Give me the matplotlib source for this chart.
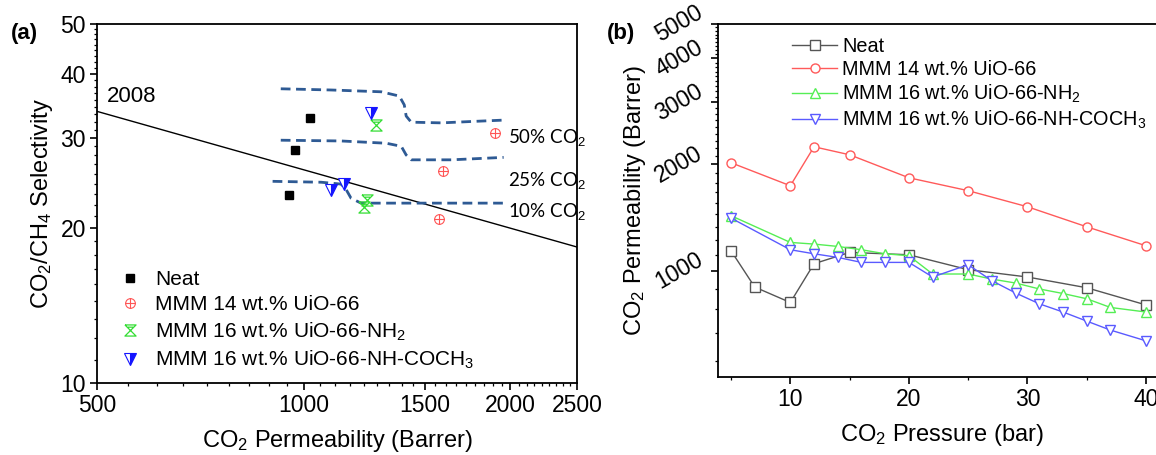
import numpy as np
import matplotlib.pyplot as plt
from matplotlib.path import Path
from matplotlib.ticker import FixedLocator, NullFormatter

plt.rcParams['font.family'] = ['Liberation Sans', 'DejaVu Sans']
plt.rcParams['mathtext.fontset'] = 'custom'
plt.rcParams['mathtext.rm'] = 'Liberation Sans'
plt.rcParams['mathtext.it'] = 'Liberation Sans:italic'

# ---- panel (a): selectivity vs permeability ----
robeson_perm = [500, 2500]
robeson_sel = [33.8, 18.4]

neat_perm = [1021, 971, 951]
neat_sel = [32.8, 28.4, 23.2]
uio_perm = [1898, 1598, 1576]
uio_sel = [30.7, 25.9, 20.9]
nh2_perm = [1275, 1237, 1225]
nh2_sel = [31.8, 22.7, 22.0]
coch3_perm = [1254, 1096, 1145]
coch3_sel = [33.6, 23.8, 24.4]

# model curves for mixed gas feeds
m50_perm = [926, 1096, 1297, 1378, 1401, 1410, 1434, 1587, 1756, 1955]
m50_sel = [37.4, 37.2, 36.9, 36.2, 34.8, 33.1, 32.2, 32.1, 32.3, 32.5]
m25_perm = [926, 1133, 1319, 1387, 1410, 1434, 1641, 1955]
m25_sel = [29.7, 29.6, 29.3, 28.9, 27.8, 27.2, 27.2, 27.5]
m10_perm = [901, 1060, 1133, 1153, 1172, 1212, 1483, 1955]
m10_sel = [24.7, 24.6, 24.4, 23.8, 22.9, 22.4, 22.4, 22.4]
feed_labels = ['50% CO$_2$', '25% CO$_2$', '10% CO$_2$']
feed_label_sel = [30.0, 24.8, 21.6]

# ---- panel (b): permeability vs pressure ----
p_neat = [5, 7, 10, 12, 15, 20, 25, 30, 35, 40]
k_neat = [1139, 899, 813, 1047, 1127, 1110, 1007, 960, 895, 800]
p_uio = [5, 10, 12, 15, 20, 25, 30, 35, 40]
k_uio = [2023, 1741, 2245, 2131, 1834, 1686, 1518, 1332, 1177]
p_mod = [5, 10, 12, 14, 16, 18, 20, 22, 25, 27, 29, 31, 33, 35, 37, 40]
k_nh2 = [1432, 1203, 1190, 1172, 1147, 1117, 1103, 979, 979, 947, 923, 888, 862, 833, 787, 764]
k_coch3 = [1410, 1147, 1117, 1091, 1056, 1056, 1056, 960, 1040, 937, 865, 806, 764, 720, 679, 633]

names = ['Neat', 'MMM 14 wt.% UiO-66', 'MMM 16 wt.% UiO-66-NH$_2$',
         'MMM 16 wt.% UiO-66-NH-COCH$_3$']


def minor_ticks(majors, n=9):
    out = []
    for a, b in zip(majors[:-1], majors[1:]):
        out += list(np.linspace(a, b, n + 1)[1:-1])
    return out


# custom markers
circ = Path.unit_circle()
cross = Path([(-1, 0), (1, 0), (0, -1), (0, 1)],
             [Path.MOVETO, Path.LINETO, Path.MOVETO, Path.LINETO])
oplus = Path.make_compound_path(circ, cross)
hourglass = Path([(-1, 1), (1, 1), (-1, -1), (1, -1), (-1, 1), (-0.5, 0.6), (0.5, 0.6)],
                 [Path.MOVETO, Path.LINETO, Path.LINETO, Path.LINETO, Path.LINETO,
                  Path.MOVETO, Path.LINETO])

fig = plt.figure(figsize=(11.56, 4.55), dpi=100)
ax1 = fig.add_axes([0.0839, 0.1582, 0.4152, 0.789])
ax2 = fig.add_axes([0.6211, 0.1714, 0.3867, 0.7758])

FS = 17    # axis labels
TS = 16.5  # tick labels
LS = 15    # legend

# ---------- (a) ----------
ax1.set_xscale('log')
ax1.set_yscale('log')
ax1.plot(robeson_perm, robeson_sel, color='black', lw=1)
dash = dict(color='#2e5a94', lw=2, ls=(0, (3.5, 2)))
ax1.plot(m50_perm, m50_sel, **dash)
ax1.plot(m25_perm, m25_sel, **dash)
ax1.plot(m10_perm, m10_sel, **dash)

ax1.plot(neat_perm, neat_sel, ls='none', marker='s', ms=6, color='black', label=names[0])
ax1.plot(uio_perm, uio_sel, ls='none', marker=oplus, ms=7, mfc='none', mec='#ff5555',
         mew=0.8, label=names[1])
ax1.plot(nh2_perm, nh2_sel, ls='none', marker=hourglass, ms=8, mfc='none', mec='#33dd33',
         mew=0.9, label=names[2])
ax1.plot(coch3_perm, coch3_sel, ls='none', marker='v', ms=8, color='#1515ff',
         fillstyle='right', markerfacecoloralt='white', mew=0.8, label=names[3])

for lab, y in zip(feed_labels, feed_label_sel):
    ax1.text(1985, y, lab, fontsize=13.5, family=['Lato', 'DejaVu Sans'], va='center', ha='left')
ax1.text(517, 36.2, '2008', fontsize=16, va='center', ha='left')

ax1.set_xlim(500, 2500)
ax1.set_ylim(10, 50)
xmaj = [500, 1000, 1500, 2000, 2500]
ymaj = [10, 20, 30, 40, 50]
ax1.xaxis.set_major_locator(FixedLocator(xmaj))
ax1.xaxis.set_minor_locator(FixedLocator(minor_ticks(xmaj)))
ax1.yaxis.set_major_locator(FixedLocator(ymaj))
ax1.yaxis.set_minor_locator(FixedLocator(minor_ticks(ymaj)))
ax1.set_xticklabels([str(v) for v in xmaj])
ax1.set_yticklabels([str(v) for v in ymaj])
ax1.xaxis.set_minor_formatter(NullFormatter())
ax1.yaxis.set_minor_formatter(NullFormatter())
ax1.set_xlabel('CO$_2$ Permeability (Barrer)', fontsize=FS, labelpad=8)
ax1.set_ylabel('CO$_2$/CH$_4$ Selectivity', fontsize=FS, labelpad=4)
ax1.legend(loc='lower left', bbox_to_anchor=(0.0, -0.025), frameon=False, fontsize=LS,
           handletextpad=0.6, labelspacing=0.3, handlelength=1.2, borderaxespad=0.6)

# ---------- (b) ----------
ax2.set_yscale('log')
kw = dict(lw=1, ms=6.5, mfc='white', mew=1)
ax2.plot(p_neat, k_neat, marker='s', color='#555555', label=names[0], **kw)
ax2.plot(p_uio, k_uio, marker='o', color='#ff5a5a', label=names[1], **kw)
ax2.plot(p_mod, k_nh2, marker='^', color='#55ee55', label=names[2], **kw)
ax2.plot(p_mod, k_coch3, marker='v', color='#5a5aff', label=names[3], **kw)

ax2.set_xlim(3.9, 41.6)
ax2.set_ylim(500, 5000)
ax2.xaxis.set_major_locator(FixedLocator([10, 20, 30, 40]))
ax2.xaxis.set_minor_locator(FixedLocator([5, 15, 25, 35]))
ymaj2 = [1000, 2000, 3000, 4000, 5000]
ax2.yaxis.set_major_locator(FixedLocator(ymaj2))
ax2.yaxis.set_minor_locator(FixedLocator(minor_ticks(ymaj2) +
                                         [1000 - k * 1000 / 9 for k in range(1, 5)]))
ax2.set_yticklabels([str(v) for v in ymaj2], rotation=30, va='center')
ax2.yaxis.set_minor_formatter(NullFormatter())
ax2.set_xlabel('CO$_2$ Pressure (bar)', fontsize=FS, labelpad=8)
ax2.set_ylabel('CO$_2$ Permeability (Barrer)', fontsize=FS, labelpad=2)
ax2.spines['right'].set_visible(False)
ax2.legend(loc='upper left', bbox_to_anchor=(0.125, 1.015), frameon=False, fontsize=14.3,
           handletextpad=0.25, labelspacing=0.2, handlelength=2.3)

for ax in (ax1, ax2):
    ax.tick_params(which='major', direction='out', length=5, width=1.2, labelsize=TS, pad=3)
    ax.tick_params(which='minor', direction='out', length=2.5, width=0.9)
    for s in ax.spines.values():
        s.set_linewidth(1.3)

fig.text(0.009, 0.915, '(a)', fontsize=16, fontweight='bold')
fig.text(0.525, 0.915, '(b)', fontsize=16, fontweight='bold')

fig.savefig('out.png', dpi=100)
